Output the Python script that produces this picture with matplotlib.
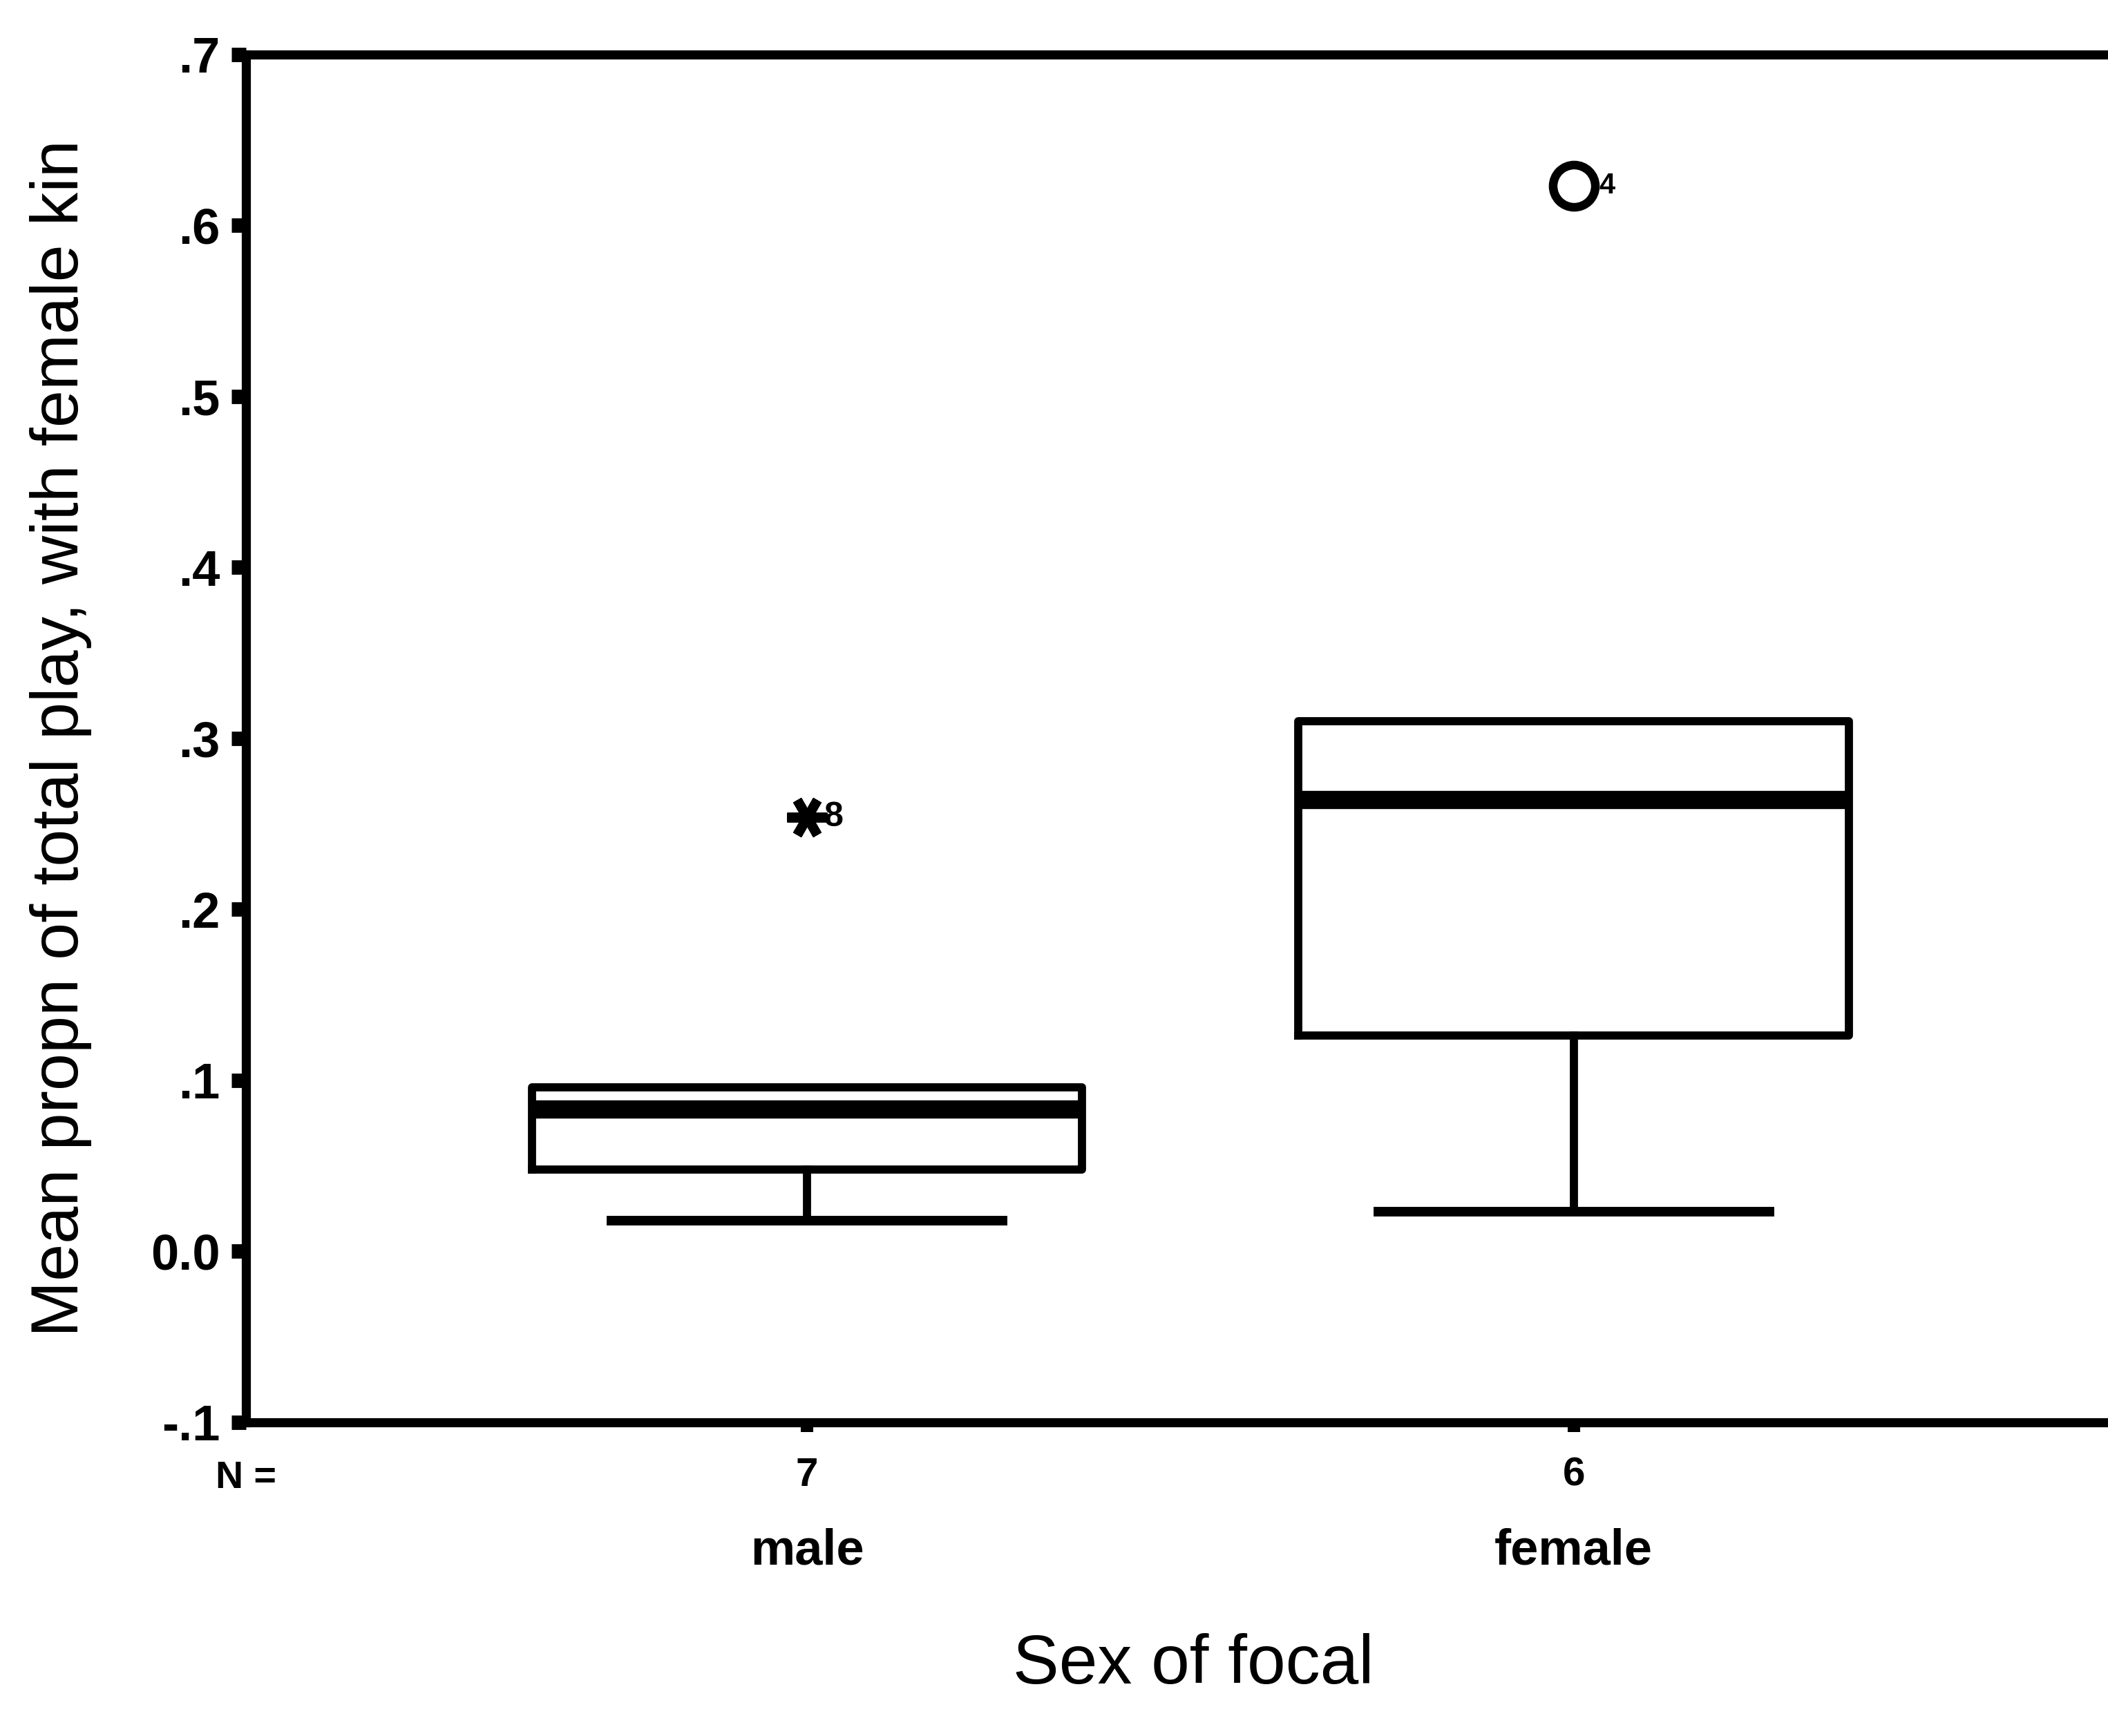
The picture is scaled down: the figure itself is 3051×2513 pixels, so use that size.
import matplotlib
matplotlib.use("Agg")
import matplotlib.pyplot as plt
from matplotlib import transforms

plt.rcParams['font.family'] = ['Liberation Sans', 'DejaVu Sans']

# ---- data ----
categories = ["male", "female"]
n_counts = [7, 6]
q1 = [0.048, 0.126]
median = [0.083, 0.264]
q3 = [0.096, 0.310]
whisker_low = [0.018, 0.023]
whisker_high = [0.096, 0.310]
outlier_values = [[0.254], [0.623]]
outlier_ids = [["8"], ["4"]]
outlier_kind = ["extreme", "outlier"]  # * = extreme, o = outlier
yticks = [-0.1, 0.0, 0.1, 0.2, 0.3, 0.4, 0.5, 0.6, 0.7]
ytick_labels = ["-.1", "0.0", ".1", ".2", ".3", ".4", ".5", ".6", ".7"]

fig = plt.figure(figsize=(30.51, 25.13), dpi=100)
ax = fig.add_axes([0.1167, 0.1807, 0.896, 0.788])

positions = [1, 2]
stats = []
for i in range(len(categories)):
    stats.append(dict(med=median[i], q1=q1[i], q3=q3[i],
                      whislo=whisker_low[i], whishi=whisker_high[i],
                      fliers=[], label=categories[i]))

lw = 8.5
parts = ax.bxp(stats, positions=positions, widths=0.718, showfliers=False,
               boxprops=dict(color="black", linewidth=lw),
               whiskerprops=dict(color="black", linewidth=lw),
               capprops=dict(color="black", linewidth=10),
               medianprops=dict(color="black", linewidth=19, solid_capstyle="butt"),
               capwidths=0.51)
# upper whisker coincides with the box top: no separate cap drawn
for i in range(len(categories)):
    if whisker_high[i] <= q3[i]:
        parts["caps"][2 * i + 1].set_visible(False)

for i, pos in enumerate(positions):
    for v, lab in zip(outlier_values[i], outlier_ids[i]):
        if outlier_kind[i] == "extreme":
            ax.plot([pos], [v], marker=(6, 2, 90), markersize=42,
                    markeredgewidth=10, color="black", linestyle="none")
            ax.text(pos + 0.022, v, lab, fontsize=36, fontweight="bold",
                    va="center", ha="left")
        else:
            ax.plot([pos], [v], marker="o", markersize=44, markerfacecolor="none",
                    markeredgewidth=9, markeredgecolor="black", linestyle="none")
            ax.text(pos + 0.033, v, lab, fontsize=30, fontweight="bold",
                    va="center", ha="left")

ax.set_xlim(0.268, 2.732)
ax.set_ylim(-0.1, 0.7)

ax.set_yticks(yticks)
ax.set_yticklabels(ytick_labels, fontsize=52, fontweight="bold")
ax.tick_params(axis="y", direction="out", length=15, width=15, pad=12)

ax.set_xticks(positions)
ax.set_xticklabels([str(n) for n in n_counts], fontsize=42, fontweight="bold")
ax.tick_params(axis="x", direction="out", length=10, width=13, pad=26)

for s in ["left", "bottom", "top", "right"]:
    ax.spines[s].set_linewidth(9.5)

trans = transforms.blended_transform_factory(ax.transData, ax.transAxes)
# N = row label
ax.text(0.268, -0.041, "N =", transform=trans, fontsize=40, fontweight="bold",
        ha="center", va="center")
for pos, cat in zip(positions, categories):
    ax.text(pos, -0.094, cat, transform=trans, fontsize=52, fontweight="bold",
            ha="center", va="center")

ax.set_ylabel("Mean propn of total play, with female kin", fontsize=70)
ax.yaxis.set_label_coords(-0.0815, 0.5)
fig.text(0.566, 0.0405, "Sex of focal", fontsize=72, ha="center", va="center")

fig.savefig("out.png", dpi=100)
